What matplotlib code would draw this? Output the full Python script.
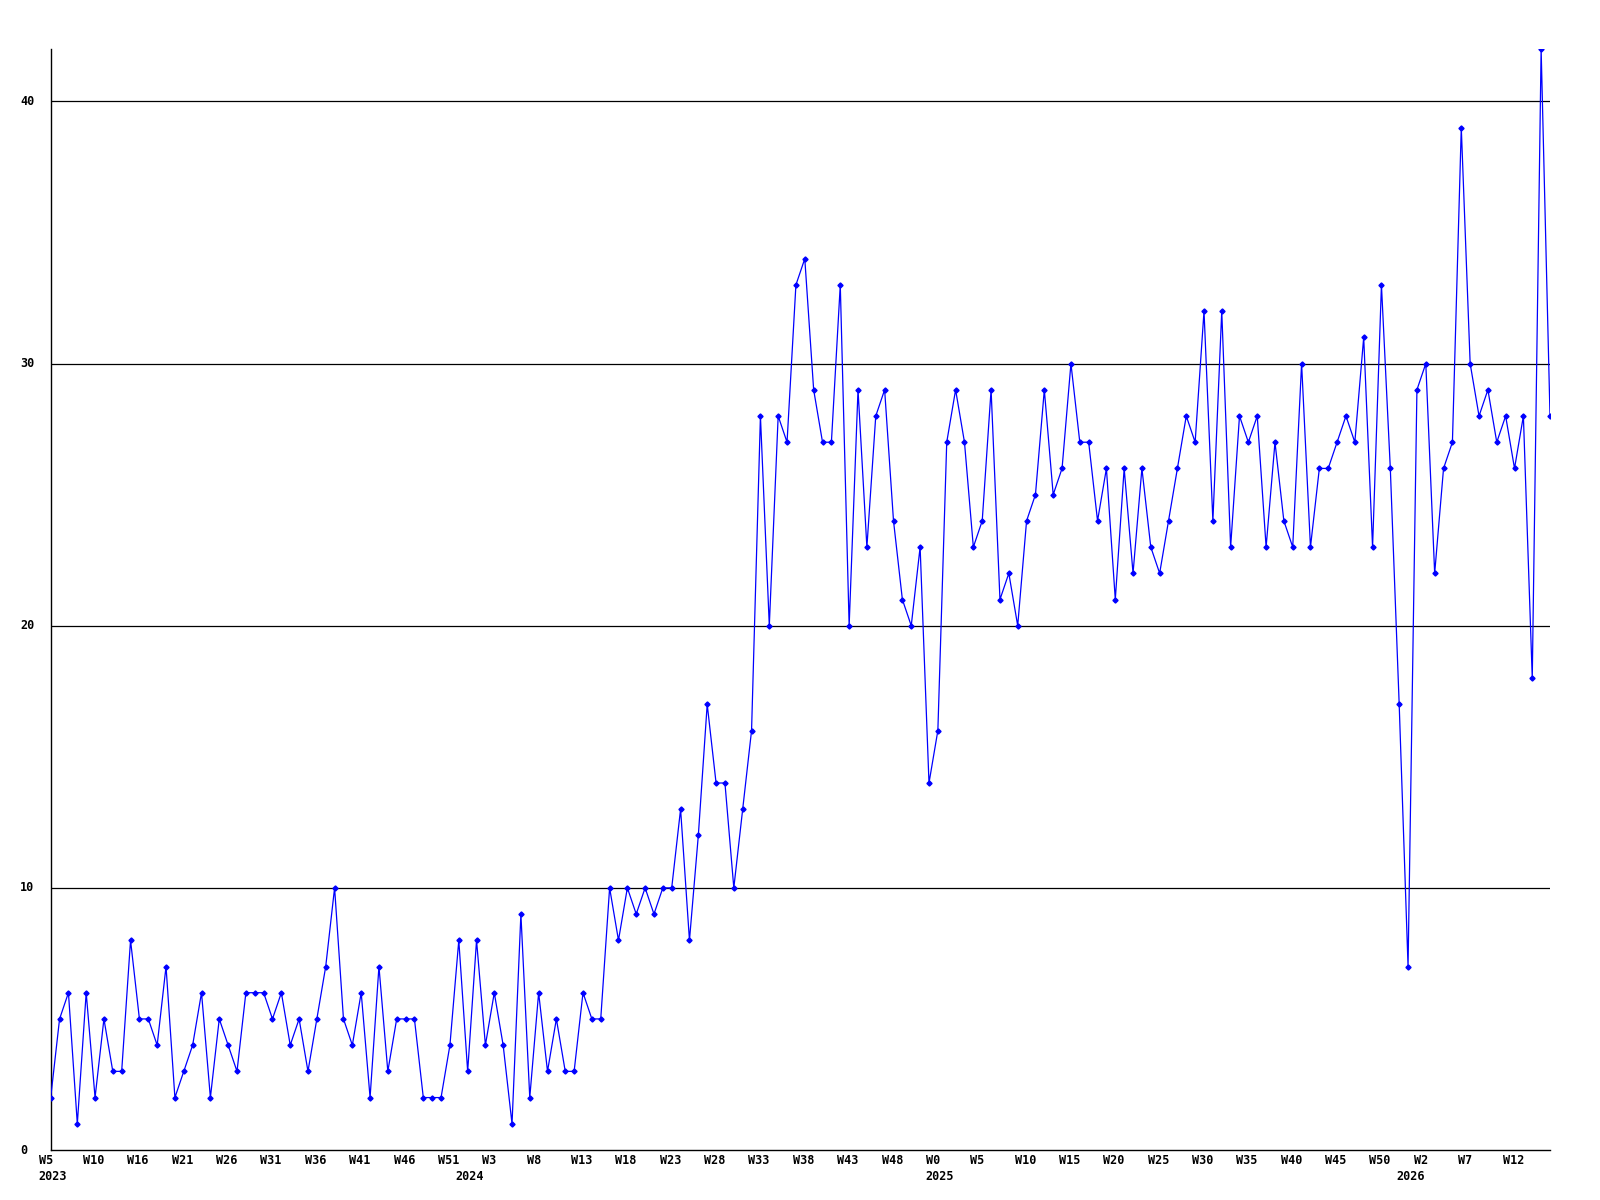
import matplotlib
matplotlib.use("Agg")
import matplotlib.pyplot as plt
from matplotlib.transforms import blended_transform_factory

# weekly values (W5 2023 ... 2026)
values = [
    2, 5, 6, 1, 6, 2, 5, 3, 3, 8, 5, 5, 4, 7, 2, 3, 4, 6, 2, 5, 4, 3, 6, 6, 6, 5, 6, 4, 5, 3, 5, 7, 10,
    5, 4, 6, 2, 7, 3, 5, 5, 5, 2, 2, 2, 4, 8, 3, 8, 4, 6, 4, 1, 9, 2, 6, 3, 5, 3, 3, 6, 5, 5,
    10, 8, 10, 9, 10, 9, 10, 10, 13, 8, 12, 17, 14, 14, 10, 13, 16,
    28, 20, 28, 27, 33, 34, 29, 27, 27, 33, 20, 29, 23, 28, 29, 24, 21, 20, 23, 14, 16, 27, 29, 27, 23,
    24, 29, 21, 22, 20, 24, 25, 29, 25, 26, 30, 27, 27, 24, 26, 21, 26, 22, 26, 23, 22, 24, 26, 28, 27,
    32, 24, 32, 23, 28, 27, 28,
    23, 27, 24, 23, 30, 23, 26, 26, 27, 28, 27, 31, 23, 33, 26, 17, 7, 29, 30,
    22, 26, 27, 39, 30, 28, 29, 27, 28, 26, 28, 18, 42, 28,
]

week_labels = ["W5", "W10", "W16", "W21", "W26", "W31", "W36", "W41", "W46", "W51",
               "W3", "W8", "W13", "W18", "W23", "W28", "W33", "W38", "W43", "W48",
               "W0", "W5", "W10", "W15", "W20", "W25", "W30", "W35", "W40", "W45",
               "W50", "W2", "W7", "W12"]
week_label_step = 5
year_labels = ["2023", "2024", "2025", "2026"]
year_positions = [0, 47, 100, 153]
y_ticks = [0, 10, 20, 30, 40]

fig = plt.figure(figsize=(16, 12), dpi=100)
ax = fig.add_axes([50.7 / 1600, 1 - 1150 / 1200, (1550 - 50.7) / 1600, (1150 - 49) / 1200])

x = list(range(len(values)))
for yv in y_ticks[1:]:
    ax.axhline(yv, color="black", linewidth=0.9, zorder=1)
ax.plot(x, values, color="#0000ff", linewidth=0.9, marker="D", markersize=2.6,
        markerfacecolor="#0000ff", markeredgecolor="#0000ff", zorder=3)

ax.set_xlim(0, len(values) - 1)
ax.set_ylim(0, 42)
for s in ["top", "right"]:
    ax.spines[s].set_visible(False)
ax.spines["left"].set_linewidth(1.0)
ax.spines["bottom"].set_linewidth(1.0)
ax.set_xticks([])
ax.set_yticks([])

font = dict(family="DejaVu Sans Mono", fontsize=8.5, fontweight="bold", color="black")

trans = blended_transform_factory(fig.transFigure, ax.transData)
for yv in y_ticks:
    ax.text(20 / 1600, yv, str(yv), transform=trans, ha="left", va="center", **font)

for i, lab in enumerate(week_labels):
    ax.annotate(lab, xy=(i * week_label_step, 0), xycoords="data",
                xytext=(-12 * 0.72, -11 * 0.72), textcoords="offset points",
                ha="left", va="center", annotation_clip=False, **font)
for pos, lab in zip(year_positions, year_labels):
    ax.annotate(lab, xy=(pos, 0), xycoords="data",
                xytext=(-12 * 0.72, -26.5 * 0.72), textcoords="offset points",
                ha="left", va="center", annotation_clip=False, **font)

fig.savefig("out.png", dpi=100, facecolor="white")
